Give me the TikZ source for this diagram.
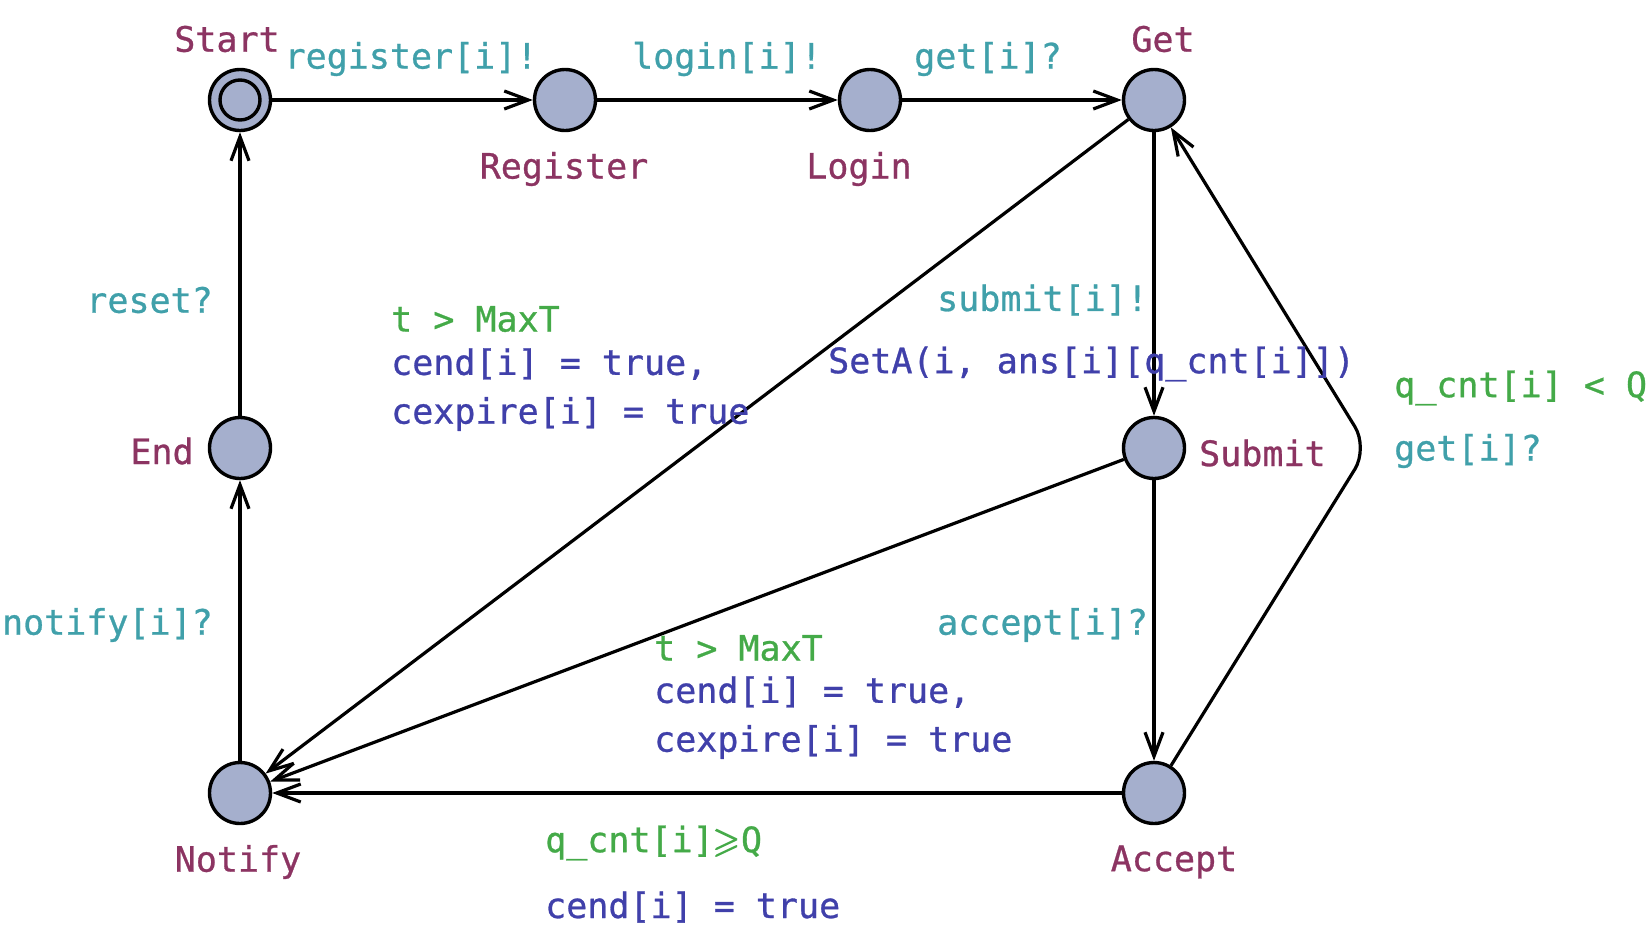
\documentclass[tikz,border=0pt]{standalone}
\usepackage{amsmath}
\usepackage{amssymb}
\usepackage{fontspec}
\newfontfamily\uppfont{DejaVu Sans Mono}[FakeBold=0.8]
\usetikzlibrary{arrows.meta}
\definecolor{locname}{HTML}{8C3462}
\definecolor{synccol}{HTML}{40A0AA}
\definecolor{guardcol}{HTML}{44AA48}
\definecolor{updcol}{HTML}{4040AA}
\definecolor{locfill}{HTML}{A5AFCD}
\begin{document}
\begin{tikzpicture}[x=1pt, y=-1pt,
	loc/.style={circle, draw, line width=3.4pt, fill=locfill, minimum size=61pt, inner sep=0pt},
	edge/.style={line width=3.2pt, -{Straight Barb[length=24pt, width=18pt]}},
	txt/.style={font=\uppfont\fontsize{35}{40}\selectfont, inner sep=0pt},
	lname/.style={txt, text=locname},
	lsync/.style={txt, text=synccol},
	lguard/.style={txt, text=guardcol},
	lupd/.style={txt, text=updcol}]
\useasboundingbox (0,0) rectangle (1650,943);
% Locations
\node [loc] (start) at (240,100) {};
\draw [line width=3.4pt] (start) circle [radius=20];
\node [loc] (register) at (565,100) {};
\node [loc] (login) at (870,100) {};
\node [loc] (get) at (1154,100) {};
\node [loc] (end) at (240,448) {};
\node [loc] (submit) at (1154,448) {};
\node [loc] (notify) at (240,793) {};
\node [loc] (accept) at (1154,793) {};
\coordinate (nail) at (1368,448);
% Location names
\node [lname] (startname) at (227,39) {Start};
\node [lname] (registername) at (564,169) {Register};
\node [lname] (loginname) at (859,169) {Login};
\node [lname] (getname) at (1163,39) {Get};
\node [lname] (endname) at (162,451) {End};
\node [lname, anchor=west] (submitname) at (1199,453) {Submit};
\node [lname] (notifyname) at (238,862) {Notify};
\node [lname] (acceptname) at (1174,862) {Accept};
% Edges
\draw [edge] (start) -- (register);
\draw [edge] (register) -- (login);
\draw [edge] (login) -- (get);
\draw [edge] (get) -- (submit);
\draw [edge] (submit) -- (accept);
\draw [edge] (end) -- (start);
\draw [edge] (notify) -- (end);
\draw [edge] (get) -- (notify);
\draw [edge] (submit) -- (notify);
\draw [edge] (accept) -- (notify);
\draw [edge, rounded corners=25pt] (accept) -- (nail) -- (get);
% Synchronisations
\node [lsync] (s1) at (411,59) {register[i]!};
\node [lsync] (s2) at (727,59) {login[i]!};
\node [lsync] (s3) at (988,59) {get[i]?};
\node [lsync, anchor=east] (s4) at (213,300) {reset?};
\node [lsync, anchor=east] (s5) at (213,625) {notify[i]?};
\node [lsync, anchor=west] (s6) at (937,300) {submit[i]!};
\node [lsync, anchor=west] (s7) at (937,625) {accept[i]?};
\node [lsync, anchor=west] (s8) at (1394,451) {get[i]?};
% Guards
\node [lguard, anchor=west] (g1) at (391,319) {t > MaxT};
\node [lguard, anchor=west] (g2) at (654,648) {t > MaxT};
\node [lguard, anchor=west] (g3) at (1394,388) {q\_cnt[i] < Q};
\node [lguard, anchor=west] (g4) at (545,843) {q\_cnt[i]$\pmb{\geqslant}$Q};
% Updates
\node [lupd, anchor=west] (u1) at (391,364) {cend[i] = true,};
\node [lupd, anchor=west] (u2) at (391,414) {cexpire[i] = true};
\node [lupd, anchor=west] (u3) at (828,364) {SetA(i, ans[i][q\_cnt[i]])};
\node [lupd, anchor=west] (u4) at (654,692) {cend[i] = true,};
\node [lupd, anchor=west] (u5) at (654,742) {cexpire[i] = true};
\node [lupd, anchor=west] (u6) at (545,907) {cend[i] = true};
\end{tikzpicture}
\end{document}
